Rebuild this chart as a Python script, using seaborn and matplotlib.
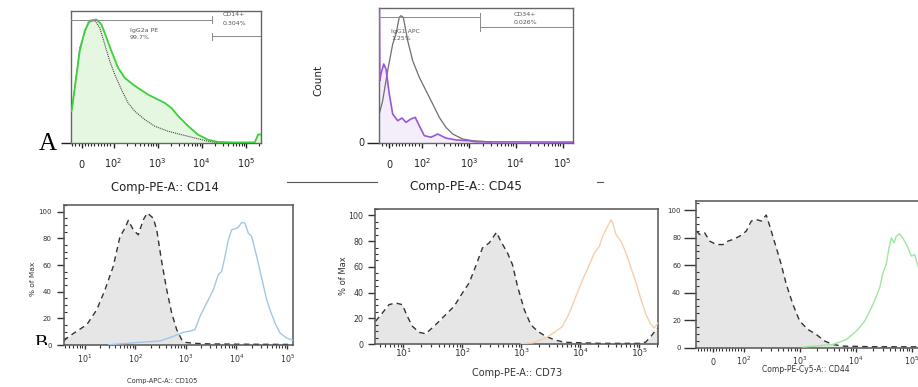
import matplotlib
matplotlib.use("Agg")
import matplotlib.pyplot as plt
import seaborn as sns
from matplotlib.lines import Line2D
from matplotlib.ticker import FixedLocator, MultipleLocator, NullFormatter, LogLocator
from matplotlib.transforms import Bbox, TransformedBbox

# ---------------- data (x = fluorescence, y = % of max) ----------------
# A1: CD14 vs isotype IgG2a PE
a1_cd14_x = [-33, -30.5, -22, -6.3, 9.4, 25, 46, 62, 78, 93, 127, 180, 303, 607, 1023, 1452,
             2050, 2910, 4900, 8260, 13900, 23500, 60000, 160000, 190000, 218000]
a1_cd14_y = [24, 26.5, 41.7, 69.7, 84.8, 92.4, 93.4, 89.6, 79.5, 69.7, 56.8, 49.2, 43.2, 36.6, 32.8, 30.3,
             26.5, 20.5, 12.9, 6.3, 2.5, 0.8, 0.4, 0.5, 6.3, 6.5]
a1_iso_x = [-33, -30.5, -6.3, 19.8, 41, 56.7, 72.4, 88.2, 107, 151, 214, 303, 512, 861, 1730, 3460,
            6950, 13900, 23500, 40000]
a1_iso_y = [24, 26.5, 72, 91, 92.7, 87, 74.5, 61.9, 51.7, 40.4, 30.3, 24, 17.7, 12.7, 8.9, 6.3,
            3.8, 1.3, 0.2, 0]

# A2: CD45 vs isotype IgG1 APC
a2_cd45_x = [-29, -28, -24.4, -16, -9.1, 0.9, 11.3, 26.5, 39.6, 51.8, 67, 80, 92.3, 113, 157, 218,
             327, 535, 1030, 1430, 165000]
a2_cd45_y = [100, 46, 50.9, 58.4, 54.6, 36.1, 21.2, 16.2, 18.2, 15.0, 17.5, 18.7, 12.5, 5.1, 3.9, 6.3,
             3.3, 1.9, 1.3, 0.5, 0.3]
a2_iso_x = [-29.5, -19.2, -4, 11.3, 21.3, 31.4, 36.6, 43.6, 57, 72.2, 92.3, 123, 171, 236, 327, 455,
            743, 1216, 1986, 3000]
a2_iso_y = [21.2, 31.1, 53.4, 73.2, 80.7, 93.1, 94.3, 93.1, 75.7, 60.8, 48.5, 38.5, 28.6, 18.7, 11.3, 6.3,
            2.6, 1.3, 0.9, 0.3]

# B1: CD105
b1_iso_x = [3.9, 4.4, 6.95, 11, 17.3, 25.2, 36.7, 49.9, 62.5, 72.8, 91.3, 114.6, 143.8, 172.6, 227, 265,
            332, 418, 524, 658, 826, 960, 1500, 3000, 10000, 40000, 132700]
b1_iso_y = [3, 5.2, 10.3, 15.2, 26.4, 41.4, 59, 81.4, 87.6, 93.5, 86.4, 82.6, 93.9, 99, 95.1, 86.4,
            62.7, 41.4, 24, 11.5, 4, 2, 1.2, 0.8, 0.6, 0.5, 0.4]
b1_cd105_x = [30, 124, 307, 564, 889, 1303, 1514, 1900, 2580, 3480, 4370, 5100, 5930, 6890, 8040, 10090,
              11200, 12670, 14720, 17110, 19950, 25060, 31470, 39520, 45920, 57670, 72400, 98200, 132700]
b1_cd105_y = [0.2, 2, 3, 6.5, 9.5, 10.7, 11.5, 21.5, 31.5, 41.4, 52.7, 55.2, 66.4, 78.9, 86.4, 87.6,
              88.9, 91.9, 91.4, 83.9, 81.4, 66.4, 50.2, 33.9, 26.4, 16.5, 9, 5.2, 3.5]

# B2: CD73
b2_iso_x = [3.4, 4.42, 5.74, 7.43, 9.66, 11.7, 14.3, 18.5, 24, 33.3, 49.3, 72.8, 100.7, 131, 169, 220,
            286, 381, 451, 585, 711, 865, 1125, 1456, 1892, 2618, 3632, 5370, 22200, 106000, 128800,
            158500, 192800, 208000]
b2_iso_y = [17.7, 24.1, 30.6, 31.9, 30.6, 21.6, 13.8, 9.1, 8, 13.8, 21.6, 29.3, 39.7, 47.5, 60.5, 74.7,
            78.6, 86.9, 79.9, 70.8, 61.7, 44.9, 26.7, 15, 9.9, 6, 3.3, 1.3, 0.5, 0.5, 1.5,
            6, 11.1, 12.5]
b2_cd73_x = [1000, 1556, 2618, 3865, 5020, 6530, 8450, 10990, 14290, 17350, 21090, 23990, 29170, 33200,
             35480, 40360, 49090, 59700, 72600, 88300, 107400, 130300, 158500, 181100, 206000]
b2_cd73_y = [0.3, 0.8, 4.7, 9.9, 13.8, 24.1, 37.1, 50, 61.7, 70.8, 76, 83.8, 91.6, 96.7,
             94.2, 85.1, 79.9, 70.8, 59.1, 47.5, 34.5, 22.8, 15, 12.5, 16.3]

# B3: CD44
b3_iso_x = [-55.4, -44.3, -28, -11.7, 9.8, 31.6, 47.9, 64.2, 86, 110, 135, 166, 204, 250, 295, 378,
            463, 570, 750, 988, 1390, 1954, 2761, 3890, 5860, 17800, 61100, 257600]
b3_iso_y = [84.8, 82.3, 83.5, 77.5, 75, 75, 77.5, 78.7, 81.1, 84.8, 92.1, 93.2, 92.1, 96.5, 87.2, 72.6,
            60.5, 45.9, 31.3, 19.2, 13.1, 9.5, 4.7, 2.2, 1, 0.6, 0.5, 0.5]
b3_cd44_x = [1132, 3890, 6714, 10140, 14320, 20140, 26500, 30300, 34700, 38900, 42760, 47750, 52480,
             60390, 71120, 84920, 97300, 111700, 128000, 170600, 257600]
b3_cd44_y = [0.3, 2.2, 5.8, 11.9, 19.2, 31.3, 43.5, 54.4, 60.5, 72.6, 79.9, 76.3, 81.1,
             82.8, 78.7, 72.6, 66.6, 67.7, 59.3, 45, 27]

W, H = 918, 387
NARROW = ["Liberation Sans Narrow", "DejaVu Sans"]


def px_box(left, top, right, bottom):
    return [left / W, 1 - bottom / H, (right - left) / W, (bottom - top) / H]


def frame(ax, color, lw):
    for s in ax.spines.values():
        s.set_color(color)
        s.set_linewidth(lw)


def symlog_x(ax, linscale, lo, hi, lin_minor):
    ax.set_xscale("symlog", linthresh=100, linscale=linscale)
    ax.set_xlim(lo, hi)
    ax.xaxis.set_major_locator(FixedLocator([0, 1e2, 1e3, 1e4, 1e5]))
    ax.set_xticklabels(["0", "$10^2$", "$10^3$", "$10^4$", "$10^5$"])
    minor = lin_minor + [m * 10 ** k for k in (2, 3, 4) for m in range(2, 10)] + [2e5]
    ax.xaxis.set_minor_locator(FixedLocator(minor))


def log_x(ax, lo, hi):
    ax.set_xscale("log")
    ax.set_xlim(lo, hi)
    ax.xaxis.set_major_locator(LogLocator(base=10, numticks=10))
    ax.xaxis.set_minor_locator(LogLocator(base=10, subs=range(2, 10), numticks=20))
    ax.xaxis.set_minor_formatter(NullFormatter())


def baseline_labels(ax):
    for t in ax.xaxis.get_major_ticks():
        t.label1.set_va("baseline")


fig = plt.figure(figsize=(W / 100, H / 100), dpi=100)

# ---------------- A1 ----------------
ax = fig.add_axes(px_box(71.3, 10.7, 260.7, 143))
symlog_x(ax, 0.648, -33, 218000, [-30, -20, -10, 10, 20, 30, 40, 50, 60, 70, 80, 90])
ax.set_ylim(0, 100)
ax.fill_between(a1_cd14_x, a1_cd14_y, color="#e6f7e1", lw=0, zorder=1)
sns.lineplot(x=a1_iso_x, y=a1_iso_y, ax=ax, estimator=None, errorbar=None, color="#4a4a4a",
             lw=0.8, linestyle=(0, (1, 0.8)), zorder=2)
sns.lineplot(x=a1_cd14_x, y=a1_cd14_y, ax=ax, estimator=None, errorbar=None, color="#3cd03c",
             lw=1.3, zorder=3)
ax.yaxis.set_major_locator(FixedLocator([0]))
ax.set_yticklabels([""])
ax.tick_params(axis="x", which="major", direction="out", length=3.5, width=1, pad=14.5,
               labelsize=7, colors="#222222")
ax.tick_params(axis="x", which="minor", direction="out", length=2, width=0.8, colors="#222222")
ax.tick_params(axis="y", which="major", length=7, width=1, colors="#222222")
baseline_labels(ax)
frame(ax, "#666666", 1.0)
ax.set_xlabel("")
ax.set_ylabel("")
g = dict(transform=ax.transAxes, color="#8a8a8a", lw=0.7, zorder=4)
ax.plot([0, 0.743], [0.932, 0.932], **g)
ax.plot([0.743, 0.743], [0.907, 0.96], **g)
ax.plot([0.743, 1.0], [0.807, 0.807], **g)
ax.plot([0.743, 0.743], [0.778, 0.835], **g)
tk = dict(transform=ax.transAxes, fontsize=4.5, color="#555555", va="center", ha="left")
ax.text(0.801, 0.975, "CD14+", **tk)
ax.text(0.801, 0.905, "0.304%", **tk)
ax.text(0.308, 0.854, "IgG2a PE", **tk)
ax.text(0.308, 0.799, "99.7%", **tk)

# ---------------- A2 ----------------
ax = fig.add_axes(px_box(379.3, 8, 572.7, 142.5))
symlog_x(ax, 0.63, -29.5, 165000, [-20, -10, 10, 20, 30, 40, 50, 60, 70, 80, 90])
ax.set_ylim(0, 100)
ax.fill_between(a2_cd45_x, a2_cd45_y, color="#f3eef9", lw=0, zorder=1)
sns.lineplot(x=a2_iso_x, y=a2_iso_y, ax=ax, estimator=None, errorbar=None, color="#6e6e6e",
             lw=0.9, zorder=2)
sns.lineplot(x=a2_cd45_x, y=a2_cd45_y, ax=ax, estimator=None, errorbar=None, color="#9b55d6",
             lw=1.2, zorder=3)
ax.yaxis.set_major_locator(FixedLocator([0]))
ax.set_yticklabels(["0"])
ax.tick_params(axis="x", which="major", direction="out", length=3.5, width=1, pad=15,
               labelsize=7, colors="#222222")
ax.tick_params(axis="x", which="minor", direction="out", length=2, width=0.8, colors="#222222")
ax.tick_params(axis="y", which="major", length=9, width=1, pad=2, labelsize=7, colors="#222222")
baseline_labels(ax)
frame(ax, "#666666", 1.0)
ax.set_xlabel("")
ax.set_ylabel("")
g = dict(transform=ax.transAxes, color="#8a8a8a", lw=0.7, zorder=4)
ax.plot([0, 0.521], [0.931, 0.931], **g)
ax.plot([0.521, 0.521], [0.896, 0.963], **g)
ax.plot([0.521, 1.0], [0.857, 0.857], **g)
ax.plot([0.521, 0.521], [0.829, 0.888], **g)
tk = dict(transform=ax.transAxes, fontsize=4.5, color="#555555", va="center")
ax.text(0.755, 0.952, "CD34+", ha="center", **tk)
ax.text(0.755, 0.891, "0.026%", ha="center", **tk)
ax.text(0.06, 0.825, "IgG1 APC", ha="left", **tk)
ax.text(0.06, 0.77, "1.25%", ha="left", **tk)


# ---------------- B panels ----------------
def b_panel(box, ytop, iso_x, iso_y, x, y, color, pad, ylab_size, ytick_len, ytick_pad):
    ax = fig.add_axes(box)
    ax.set_ylim(0, ytop)
    ax.fill_between(iso_x, iso_y, color="#e6e6e6", lw=0, zorder=1)
    sns.lineplot(x=iso_x, y=iso_y, ax=ax, estimator=None, errorbar=None, color="#333333",
                 lw=1.0, linestyle=(0, (4, 3)), zorder=2)
    sns.lineplot(x=x, y=y, ax=ax, estimator=None, errorbar=None, color=color, lw=1.0, zorder=3)
    ax.yaxis.set_major_locator(FixedLocator([0, 20, 40, 60, 80, 100]))
    ax.yaxis.set_minor_locator(MultipleLocator(5))
    ax.tick_params(axis="y", which="major", direction="out", length=ytick_len, width=1,
                   pad=ytick_pad, labelsize=ylab_size, colors="#333333")
    ax.tick_params(axis="y", which="minor", direction="in", length=2, width=0.8, colors="#333333")
    ax.tick_params(axis="x", which="major", direction="out", length=3, width=1, pad=pad,
                   colors="#333333")
    ax.tick_params(axis="x", which="minor", direction="out", length=2, width=0.8, colors="#333333")
    frame(ax, "#555555", 1.1)
    ax.set_xlabel("")
    ax.set_ylabel("")
    return ax


ax = b_panel(px_box(64, 205, 293.3, 345), 105, b1_iso_x, b1_iso_y, b1_cd105_x, b1_cd105_y,
             "#a3c6e8", 10.3, 5, 5, 4)
log_x(ax, 3.9, 132700)
ax.tick_params(axis="x", labelsize=5.7)
baseline_labels(ax)

ax = b_panel(px_box(375.3, 208.5, 658, 344), 105.4, b2_iso_x, b2_iso_y, b2_cd73_x, b2_cd73_y,
             "#f6cfa8", 6.4, 5.7, 5, 3.5)
log_x(ax, 3.36, 208000)
ax.tick_params(axis="x", labelsize=6.6)
baseline_labels(ax)

ax = b_panel(px_box(696.3, 201.3, 935, 347.5), 106.5, b3_iso_x, b3_iso_y, b3_cd44_x, b3_cd44_y,
             "#9ee69e", 9.4, 5, 9, 2)
symlog_x(ax, 0.493, -55.4, 257600, [-50, -40, -30, -20, -10, 10, 20, 30, 40, 50, 60, 70, 80, 90])
ax.tick_params(axis="x", labelsize=5.7)
baseline_labels(ax)

# ---------------- figure texts ----------------
fig.text(164.5 / W, 1 - 187 / H, "Comp-PE-A:: CD14", ha="center", va="center", fontsize=8.4, color="#222222")
fig.text(466 / W, 1 - 186.7 / H, "Comp-PE-A:: CD45", ha="center", va="center", fontsize=8.7, color="#222222")
fig.text(162.5 / W, 1 - 381 / H, "Comp-APC-A:: CD105", ha="center", va="center", fontsize=4.8, color="#333333")
fig.text(517 / W, 1 - 373 / H, "Comp-PE-A:: CD73", ha="center", va="center", fontsize=7, color="#333333")
fig.text(806 / W, 1 - 369.5 / H, "Comp-PE-Cy5-A:: CD44", ha="center", va="center", fontsize=5.5, color="#333333")

fig.text(318 / W, 1 - 80 / H, "Count", rotation=90, ha="center", va="center", fontsize=7.5,
         family=NARROW, color="#222222")
fig.text(32.7 / W, 1 - 279 / H, "% of Max", rotation=90, ha="center", va="center", fontsize=5.3,
         family=NARROW, color="#333333")
fig.text(343.3 / W, 1 - 276 / H, "% of Max", rotation=90, ha="center", va="center", fontsize=6,
         family=NARROW, color="#333333")

fig.text(39 / W, 1 - 150 / H, "A", fontsize=18, family="Liberation Serif", va="baseline", color="black")
b = fig.text(34 / W, 1 - 347.9 / H, "B", fontsize=14, family="Liberation Serif", va="baseline", color="black")
b.set_clip_box(TransformedBbox(Bbox([[0, 1 - 345 / H], [0.1, 1]]), fig.transFigure))

fig.add_artist(Line2D([287 / W, 377 / W], [1 - 182 / H] * 2, color="#555555", lw=0.8))
fig.add_artist(Line2D([597 / W, 603 / W], [1 - 182 / H] * 2, color="#555555", lw=0.8))

fig.savefig("out.png", dpi=100)
